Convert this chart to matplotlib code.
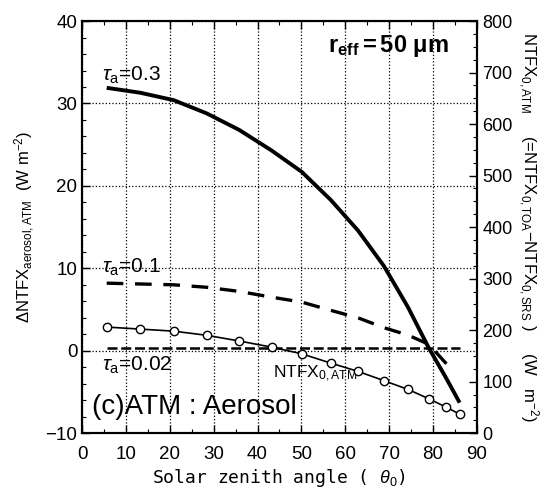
import matplotlib
matplotlib.use("Agg")
import matplotlib.pyplot as plt
from matplotlib.ticker import MultipleLocator, AutoMinorLocator

plt.rcParams['font.family'] = ['Liberation Sans', 'DejaVu Sans']
plt.rcParams['mathtext.fontset'] = 'custom'
plt.rcParams['mathtext.rm'] = 'Liberation Sans'
plt.rcParams['mathtext.it'] = 'Liberation Sans:italic'
plt.rcParams['mathtext.bf'] = 'Liberation Sans:bold'

# angulos cenitales (grados)
theta = [5.6, 13.3, 20.9, 28.4, 35.8, 43.2, 50.1, 56.7, 62.9, 68.8, 74.3, 79.0, 82.9, 86.1]

# Delta NTFX aerosol, ATM (W m-2)
tau_03 = [31.9, 31.3, 30.4, 28.8, 26.8, 24.3, 21.7, 18.3, 14.6, 10.3, 5.3, 0.4, -3.2, -6.3]
theta_01 = [5.6, 13.3, 20.9, 28.4, 35.8, 43.2, 50.1, 56.7, 62.9, 68.8, 74.3, 79.0, 83.8]
tau_01 = [8.2, 8.1, 8.0, 7.7, 7.2, 6.5, 5.9, 4.9, 4.0, 2.8, 1.9, 0.8, -2.0]
tau_002 = [0.3, 0.3, 0.3, 0.3, 0.3, 0.3, 0.3, 0.3, 0.3, 0.3, 0.3, 0.3, 0.3, 0.3]

# NTFX_0,ATM (W m-2), eje derecho
ntfx_atm = [206, 202, 198, 190, 179, 167, 154, 136, 120, 102, 85, 67, 51, 37]

fig = plt.figure(figsize=(5.55, 4.9), dpi=100)
ax = fig.add_axes([0.148, 0.116, 0.711, 0.841])
ax2 = ax.twinx()

ax.plot(theta, tau_03, color='black', lw=2.8, solid_capstyle='butt')
ax.plot(theta_01, tau_01, color='black', lw=2.4, dashes=(5, 3.5))
ax.plot(theta, tau_002, color='black', lw=1.8, dashes=(4, 1.5))
ax2.plot(theta, ntfx_atm, color='black', lw=1.2, marker='o', ms=6,
         mfc='white', mec='black', mew=1.0)

ax.set_xlim(0, 90)
ax.set_ylim(-10, 40)
ax2.set_ylim(0, 800)

ax.xaxis.set_major_locator(MultipleLocator(10))
ax.xaxis.set_minor_locator(MultipleLocator(5))
ax.yaxis.set_major_locator(MultipleLocator(10))
ax.yaxis.set_minor_locator(MultipleLocator(2))
ax2.yaxis.set_major_locator(MultipleLocator(100))
ax2.yaxis.set_minor_locator(AutoMinorLocator(4))

ax.tick_params(which='both', direction='in', top=True, right=False, labelsize=13.5)
ax.tick_params(axis='x', pad=9)
ax.tick_params(which='major', length=6, width=1)
ax.tick_params(which='minor', length=3, width=0.8)
ax2.tick_params(which='both', direction='in', labelsize=13, pad=4)
ax2.tick_params(which='major', length=6, width=1)
ax2.tick_params(which='minor', length=3, width=0.8)
for a in (ax, ax2):
    for s in a.spines.values():
        s.set_linewidth(1.5)

ax.grid(True, which='major', color='black', linestyle=':', linewidth=0.9)

ax.set_xlabel(r'Solar zenith angle ( $\mathit{\theta}_{\rm 0}$)', family='DejaVu Sans Mono',
              fontsize=13, labelpad=3)
ax.set_ylabel(r'$\Delta$NTFX$_{\rm aerosol,ATM}$  (W m$^{-2}$)', fontsize=12, labelpad=6)
ax2.set_ylabel(r'NTFX$_{\rm 0,ATM}$     (=NTFX$_{\rm 0,TOA}$$-$NTFX$_{\rm 0,SRS}$ )     (W   m$^{-2}$)',
               fontsize=12, rotation=270, labelpad=20)

ax.text(4.6, 32.8, r'$\mathit{\tau}_{\rm a}$=0.3', fontsize=15)
ax.text(4.6, 9.5, r'$\mathit{\tau}_{\rm a}$=0.1', fontsize=15)
ax.text(4.6, -2.4, r'$\mathit{\tau}_{\rm a}$=0.02', fontsize=15)
ax.text(43.5, -3.3, r'NTFX$_{\rm 0,ATM}$', fontsize=12.5)
ax.text(2.3, -7.7, '(c)ATM : Aerosol', fontsize=20)
ax.text(56.0, 36.2, r'$\mathbf{r_{eff}}$$\mathbf{=50\ \mu m}$', fontsize=17)

fig.savefig('out.png', dpi=100)
